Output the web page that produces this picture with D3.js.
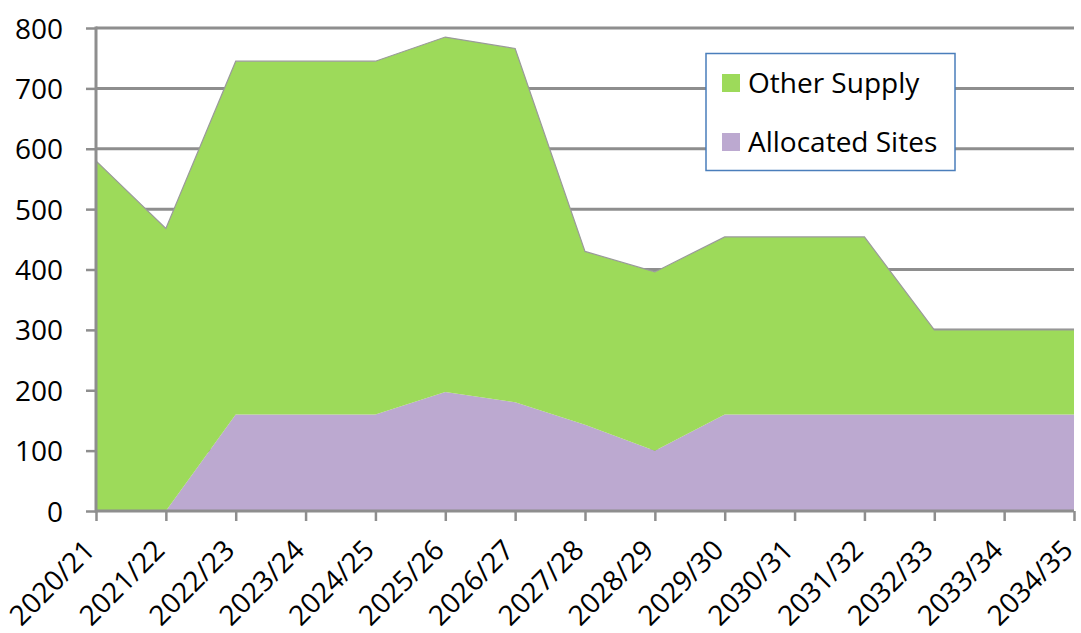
<!DOCTYPE html>
<html><head><meta charset="utf-8">
<script src="https://cdn.jsdelivr.net/npm/d3@7"></script>
<style>body{margin:0;background:#fff}svg{display:block}text{font-family:"Open Sans",Lato,sans-serif;fill:#000}</style>
</head><body>
<svg id="c" width="1081" height="633"></svg>
<script>
const categories = ["2020/21","2021/22","2022/23","2023/24","2024/25","2025/26","2026/27","2027/28","2028/29","2029/30","2030/31","2031/32","2032/33","2033/34","2034/35"];
const allocatedSites = [0,0,160,160,160,197,180,143,100,160,160,160,160,160,160];
const otherSupply = [580,468,585,585,585,588,586,287,296,294,294,294,140,140,140];
const yTicks = [0,100,200,300,400,500,600,700,800];
const seriesNames = ["Allocated Sites","Other Supply"];
const colors = {"Other Supply":"#9dda5a","Allocated Sites":"#bca9d0"};

const svg = d3.select("#c");
const pL = 96, pR = 1074, pT = 28, pB = 511;
const x = d3.scalePoint().domain(categories).range([pL,pR]);
const y = d3.scaleLinear().domain([0,800]).range([pB,pT]);

const rows = categories.map((c,i)=>({cat:c,"Allocated Sites":allocatedSites[i],"Other Supply":otherSupply[i]}));
const stacked = d3.stack().keys(seriesNames)(rows);

// gridlines
svg.append("g").selectAll("line").data(yTicks.filter(d=>d>0)).join("line")
  .attr("x1",pL).attr("x2",pR).attr("y1",d=>y(d)).attr("y2",d=>y(d))
  .attr("stroke","#8e8e8e").attr("stroke-width",3);

const area = d3.area().x((d,i)=>x(categories[i])).y0(d=>y(d[0])).y1(d=>y(d[1]));
const line = d3.line().x((d,i)=>x(categories[i])).y(d=>y(d[1]));
svg.append("g").selectAll("path").data(stacked).join("path")
  .attr("d",area).attr("fill",d=>colors[d.key]);
svg.append("path").datum(stacked[1]).attr("d",line).attr("fill","none").attr("stroke","#9a9a9a").attr("stroke-width",1.2);

// y axis
const ya = svg.append("g").attr("transform",`translate(${pL},0)`)
  .call(d3.axisLeft(y).tickValues(yTicks).tickSize(10).tickPadding(23));
ya.select(".domain").attr("stroke","#8e8e8e").attr("stroke-width",3).attr("d",`M0,${pT-1.5}V${pB+1.5}`);
ya.selectAll(".tick line").attr("stroke","#8e8e8e").attr("stroke-width",2.5);
ya.selectAll("text").style("font-size","28px").attr("dy","0.36em");

// x axis
const xa = svg.append("g").attr("transform",`translate(0,${pB})`)
  .call(d3.axisBottom(x).tickSize(10).tickSizeOuter(0));
xa.select(".domain").attr("stroke","#8e8e8e").attr("stroke-width",3).attr("d",`M${pL},0H${pR}`);
xa.selectAll(".tick line").attr("stroke","#8e8e8e").attr("stroke-width",2.5);
xa.selectAll("text").style("font-size","28px")
  .attr("text-anchor","end").attr("dy",0).attr("y",0)
  .attr("transform","translate(0,41) rotate(-45)");

// legend
const lg = svg.append("g");
lg.append("rect").attr("x",706).attr("y",53.5).attr("width",249).attr("height",117)
  .attr("fill","#fff").attr("stroke","#4a7ebb").attr("stroke-width",1.5);
const legendItems = ["Other Supply","Allocated Sites"];
lg.selectAll("g.it").data(legendItems).join("g").attr("class","it")
  .each(function(d,i){
    const g=d3.select(this);
    const cy = 83 + i*59;
    g.append("rect").attr("x",722).attr("y",cy-9).attr("width",18).attr("height",18).attr("fill",colors[d]);
    g.append("text").attr("x",748).attr("y",cy).attr("dy","0.36em").style("font-size","28px").text(d);
  });
</script>
</body></html>
